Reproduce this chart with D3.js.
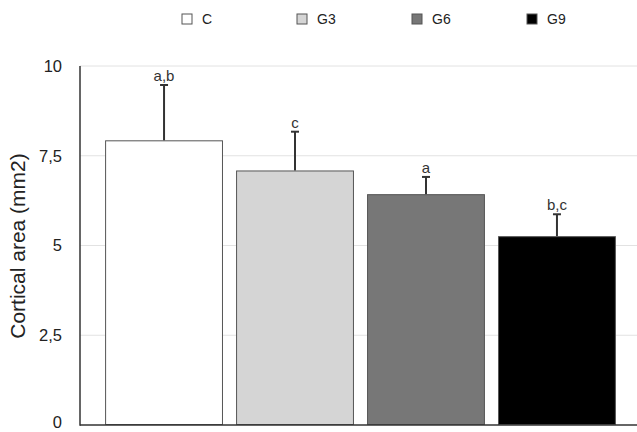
<!DOCTYPE html>
<html lang="en">
<head>
    <meta charset="UTF-8">
    <title>Cortical area</title>
    <script src="https://d3js.org/d3.v7.min.js"></script>
    <style>
        body { margin: 0; background: #fff; }
        text { font-family: "Liberation Sans", Arial, sans-serif; fill: #222; }
        .grid line { stroke: #e2e2e2; stroke-width: 1; }
        .axis-line { stroke: #333; stroke-width: 1.5; }
        .bar { stroke: #555; stroke-width: 1; }
        .err { stroke: #333; stroke-width: 2; }
    </style>
</head>
<body>
    <div id="chart"></div>
    <script>
        // data
        const groups = ["C", "G3", "G6", "G9"];
        const means = [7.93, 7.09, 6.43, 5.26];
        const errTops = [9.47, 8.17, 6.91, 5.87];
        const sigLabels = ["a,b", "c", "a", "b,c"];
        const fills = ["#ffffff", "#d5d5d5", "#777777", "#000000"];
        const yTicks = [0, 2.5, 5, 7.5, 10];

        const width = 637, height = 432;
        const svg = d3.select("#chart").append("svg")
            .attr("width", width)
            .attr("height", height);

        const y = d3.scaleLinear().domain([0, 10]).range([425, 66]);
        const x = d3.scaleBand().domain(groups)
            .range([92, 629]).paddingInner(0.1).paddingOuter(0.1);
        const axisX = 80;

        // gridlines
        svg.append("g").attr("class", "grid")
            .selectAll("line")
            .data(yTicks.filter(d => d > 0))
            .enter().append("line")
            .attr("x1", axisX).attr("x2", width)
            .attr("y1", d => y(d)).attr("y2", d => y(d));

        // y tick labels (the 0 sits on the bottom edge, nudge it up a bit)
        const fmt = d => String(d).replace(".", ",");
        svg.append("g")
            .selectAll("text")
            .data(yTicks)
            .enter().append("text")
            .attr("x", 62)
            .attr("y", d => d === 0 ? y(d) - 3 : y(d))
            .attr("dy", "0.36em")
            .attr("text-anchor", "end")
            .style("font-size", "16.5px")
            .text(fmt);

        // y title
        svg.append("text")
            .attr("transform", "translate(25,246) rotate(-90)")
            .attr("text-anchor", "middle")
            .style("font-size", "21px")
            .text("Cortical area (mm2)");

        // bars
        svg.append("g")
            .selectAll("rect")
            .data(groups)
            .enter().append("rect")
            .attr("class", "bar")
            .attr("x", d => x(d) + 0.5)
            .attr("y", (d, i) => y(means[i]) + 0.5)
            .attr("width", x.bandwidth() - 1)
            .attr("height", (d, i) => y(0) - y(means[i]) - 1)
            .attr("fill", (d, i) => fills[i]);

        // error bars
        const eb = svg.append("g").selectAll("g")
            .data(groups)
            .enter().append("g");
        eb.append("line").attr("class", "err")
            .attr("x1", d => x(d) + x.bandwidth() / 2)
            .attr("x2", d => x(d) + x.bandwidth() / 2)
            .attr("y1", (d, i) => y(means[i]))
            .attr("y2", (d, i) => y(errTops[i]));
        eb.append("line").attr("class", "err")
            .attr("x1", d => x(d) + x.bandwidth() / 2 - 4)
            .attr("x2", d => x(d) + x.bandwidth() / 2 + 4)
            .attr("y1", (d, i) => y(errTops[i]))
            .attr("y2", (d, i) => y(errTops[i]));
        eb.append("text")
            .attr("x", d => x(d) + x.bandwidth() / 2)
            .attr("y", (d, i) => y(errTops[i]) - 4)
            .attr("text-anchor", "middle")
            .style("font-size", "15px")
            .style("fill", "#333")
            .text((d, i) => sigLabels[i]);

        // axis lines
        svg.append("line").attr("class", "axis-line")
            .attr("x1", axisX).attr("x2", axisX)
            .attr("y1", y(10)).attr("y2", y(0) + 0.75);
        svg.append("line").attr("class", "axis-line")
            .attr("x1", axisX).attr("x2", width)
            .attr("y1", y(0)).attr("y2", y(0));

        // legend
        const legend = svg.append("g").selectAll("g")
            .data(groups)
            .enter().append("g")
            .attr("transform", (d, i) => `translate(${182 + i * 115},14)`);
        legend.append("rect")
            .attr("width", 10).attr("height", 10)
            .attr("fill", (d, i) => fills[i])
            .attr("stroke", "#555").attr("stroke-width", 1);
        legend.append("text")
            .attr("x", 20).attr("y", 5)
            .attr("dy", "0.36em")
            .style("font-size", "14px")
            .text(d => d);
    </script>
</body>
</html>
